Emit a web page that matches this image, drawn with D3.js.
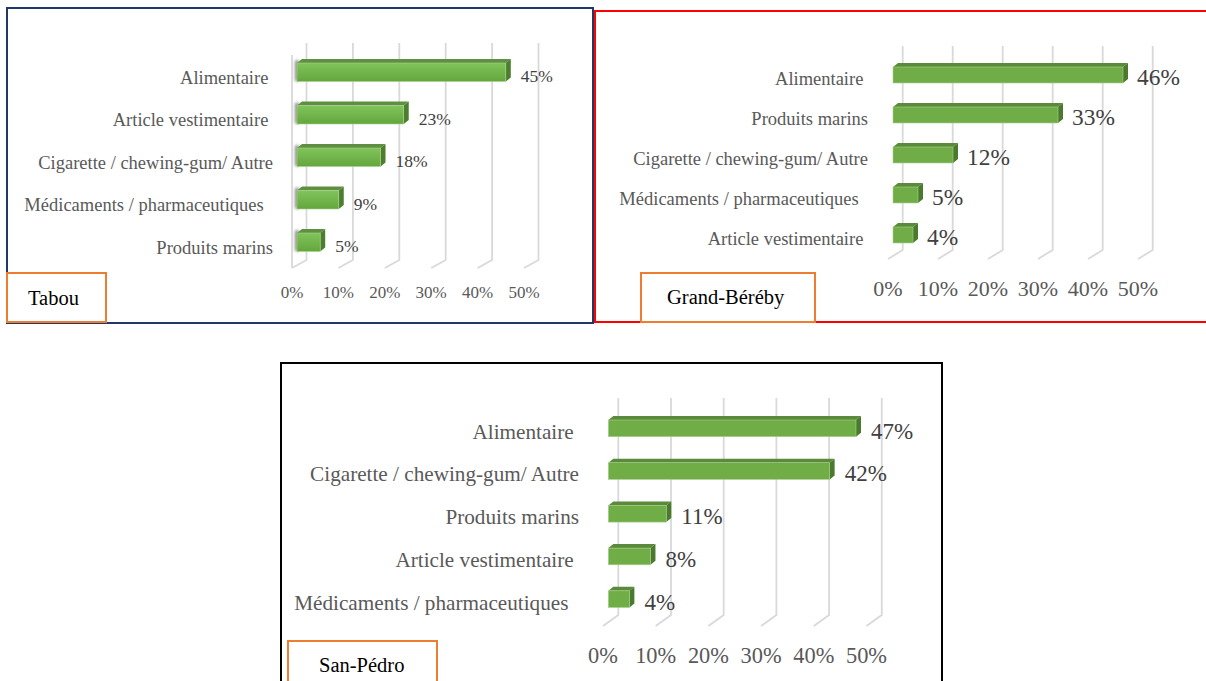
<!DOCTYPE html>
<html>
<head>
<meta charset="utf-8">
<script src="https://cdn.jsdelivr.net/npm/d3@7"></script>
<style>
  html, body { margin: 0; padding: 0; background: #ffffff; }
  svg text { font-family: "Liberation Serif", "Times New Roman", serif; white-space: pre; }
</style>
</head>
<body>
<svg id="chart" width="1206" height="681" xmlns="http://www.w3.org/2000/svg" xml:space="preserve"></svg>
<script>
// ---------------- DATA ----------------
const tabouCategories = ["Alimentaire ", "Article vestimentaire ", "Cigarette / chewing-gum/ Autre", "Médicaments / pharmaceutiques  ", "Produits marins"];
const tabouValues = [45, 23, 18, 9, 5];

const bereByCategories = ["Alimentaire ", "Produits marins", "Cigarette / chewing-gum/ Autre", "Médicaments / pharmaceutiques  ", "Article vestimentaire "];
const bereByValues = [46, 33, 12, 5, 4];

const sanPedroCategories = ["Alimentaire ", "Cigarette / chewing-gum/ Autre", "Produits marins", "Article vestimentaire ", "Médicaments / pharmaceutiques  "];
const sanPedroValues = [47, 42, 11, 8, 4];

const tickValues = [0, 10, 20, 30, 40, 50];
const tickLabels = ["0%", "10%", "20%", "30%", "40%", "50%"];
const panelTitles = ["Tabou", "Grand-Béréby", "San-Pédro"];

// ---------------- LAYOUT ----------------
const svg = d3.select("#chart");
const defs = svg.append("defs");

const gradTabou = defs.append("linearGradient").attr("id", "gTabou").attr("x1", 0).attr("y1", 0).attr("x2", 0).attr("y2", 1);
gradTabou.append("stop").attr("offset", "0%").attr("stop-color", "#82c45c");
gradTabou.append("stop").attr("offset", "100%").attr("stop-color", "#62a63c");

defs.append("filter").attr("id", "blur").attr("x", "-100%").attr("y", "-50%").attr("width", "300%").attr("height", "200%")
  .append("feGaussianBlur").attr("stdDeviation", 1.4);

const panels = [
  {
    cats: tabouCategories, vals: tabouValues, title: panelTitles[0],
    frame: {x: 7, y: 8, w: 586, h: 315, color: "#1f3864"},
    box: {x: 7, y: 273, w: 99, h: 49, tx: 28, ty: 305, fs: 20.5},
    bx0: 297, k: 4.64, backDx: 9.5, frontDx: -5,
    yTop: 43, yBack: 260, yFront: 268, tickY: 298, tickFs: 17,
    r0: 51, step: 42.5, barH: 18.5, depthX: 5, depthY: 4,
    catX: 273, catFs: 18.5, labFs: 17.5, labGap: 10, labDy: 0.5,
    fill: "url(#gTabou)", top: "#5f8f40", side: "#4d7e30", wall: true, shadow: true
  },
  {
    cats: bereByCategories, vals: bereByValues, title: panelTitles[1],
    frame: {x: 595, y: 11, w: 640, h: 311, color: "#ff0000"},
    box: {x: 641, y: 273, w: 174, h: 49, tx: 667, ty: 304, fs: 20.5},
    bx0: 893, k: 5.0, backDx: 9.7, frontDx: -5,
    yTop: 46, yBack: 250, yFront: 259, tickY: 296, tickFs: 22,
    r0: 55, step: 40, barH: 16, depthX: 5, depthY: 4,
    catX: 868, catFs: 18.5, labFs: 23.4, labGap: 9, labDy: 2,
    fill: "#70ad47", top: "#5a8a3a", side: "#4a7a2e", wall: false, shadow: false
  },
  {
    cats: sanPedroCategories, vals: sanPedroValues, title: panelTitles[2],
    frame: {x: 281, y: 363, w: 661, h: 340, color: "#000000"},
    box: {x: 288, y: 641, w: 149, h: 60, tx: 319, ty: 672, fs: 20.5},
    bx0: 608.3, k: 5.27, backDx: 10, frontDx: -5.3,
    yTop: 398, yBack: 615, yFront: 626, tickY: 663, tickFs: 22.4,
    r0: 407, step: 42.7, barH: 16.7, depthX: 5, depthY: 4,
    catX: 579, catFs: 21.2, labFs: 23, labGap: 10, labDy: 2,
    fill: "#70ad47", top: "#5a8a3a", side: "#4a7a2e", wall: false, shadow: false
  }
];

panels.forEach(p => {
  const g = svg.append("g");

  // frame
  g.append("rect").attr("x", p.frame.x).attr("y", p.frame.y).attr("width", p.frame.w).attr("height", p.frame.h)
    .attr("fill", "none").attr("stroke", p.frame.color).attr("stroke-width", 2);

  const x = d3.scaleLinear().domain([0, 50]).range([p.bx0, p.bx0 + 50 * p.k]);
  const y = d3.scaleBand().domain(p.cats).range([p.r0, p.r0 + p.cats.length * p.step])
    .paddingInner(1 - p.barH / p.step).paddingOuter((1 - p.barH / p.step) / 2);

  // gridlines (back wall + floor slant)
  const grid = g.append("g");
  grid.selectAll("path.grid").data(tickValues).join("path")
    .attr("class", "grid")
    .attr("d", v => `M${x(v) + p.backDx},${p.yTop} L${x(v) + p.backDx},${p.yBack} L${x(v) + p.frontDx},${p.yFront}`)
    .attr("fill", "none").attr("stroke", "#d9d9d9").attr("stroke-width", 1.8);
  if (p.wall) {
    grid.append("line")
      .attr("x1", x(0) + p.frontDx).attr("x2", x(0) + p.frontDx)
      .attr("y1", p.yTop + 12).attr("y2", p.yFront)
      .attr("stroke", "#d9d9d9").attr("stroke-width", 1.8);
  }

  // tick labels (front edge)
  g.append("g").selectAll("text").data(tickValues).join("text")
    .attr("x", v => x(v) + p.frontDx).attr("y", p.tickY)
    .attr("text-anchor", "middle").attr("font-size", p.tickFs).attr("fill", "#595959")
    .text((v, i) => tickLabels[i]);

  // bars
  const bars = g.append("g").selectAll("g").data(p.cats.map((c, i) => ({c, v: p.vals[i]}))).join("g");
  if (p.shadow) {
    bars.append("rect")
      .attr("x", x(0) - 2).attr("y", d => y(d.c) - p.depthY + 1)
      .attr("width", 4).attr("height", p.barH + p.depthY - 1)
      .attr("rx", 2)
      .attr("fill", "#555").attr("opacity", 0.7).attr("filter", "url(#blur)");
  }
  bars.append("path")
    .attr("d", d => {
      const x0 = x(0), x1 = x(d.v), yt = y(d.c);
      return `M${x0},${yt} L${x0 + p.depthX},${yt - p.depthY} L${x1 + p.depthX},${yt - p.depthY} L${x1},${yt} Z`;
    })
    .attr("fill", p.top);
  bars.append("path")
    .attr("d", d => {
      const x1 = x(d.v), yt = y(d.c), h = y.bandwidth();
      return `M${x1},${yt} L${x1 + p.depthX},${yt - p.depthY} L${x1 + p.depthX},${yt + h - p.depthY} L${x1},${yt + h} Z`;
    })
    .attr("fill", p.side);
  bars.append("rect")
    .attr("x", x(0)).attr("y", d => y(d.c))
    .attr("width", d => x(d.v) - x(0)).attr("height", y.bandwidth())
    .attr("fill", p.fill).attr("stroke", "#a9d08e").attr("stroke-width", 0.6);

  // data labels
  bars.append("text")
    .attr("x", d => x(d.v) + p.depthX + p.labGap)
    .attr("y", d => y(d.c) + y.bandwidth() + p.labDy)
    .attr("font-size", p.labFs).attr("fill", "#404040")
    .text(d => d.v + "%");

  // category labels
  g.append("g").selectAll("text").data(p.cats).join("text")
    .attr("x", p.catX).attr("y", c => y(c) + y.bandwidth() + 2)
    .attr("text-anchor", "end").attr("font-size", p.catFs).attr("fill", "#595959")
    .attr("xml:space", "preserve")
    .text(c => c);

  // title box
  g.append("rect").attr("x", p.box.x).attr("y", p.box.y).attr("width", p.box.w).attr("height", p.box.h)
    .attr("fill", "#ffffff").attr("stroke", "#ed7d31").attr("stroke-width", 2);
  g.append("text").attr("x", p.box.tx).attr("y", p.box.ty)
    .attr("font-size", p.box.fs).attr("fill", "#000000")
    .text(p.title);
});
</script>
</body>
</html>
